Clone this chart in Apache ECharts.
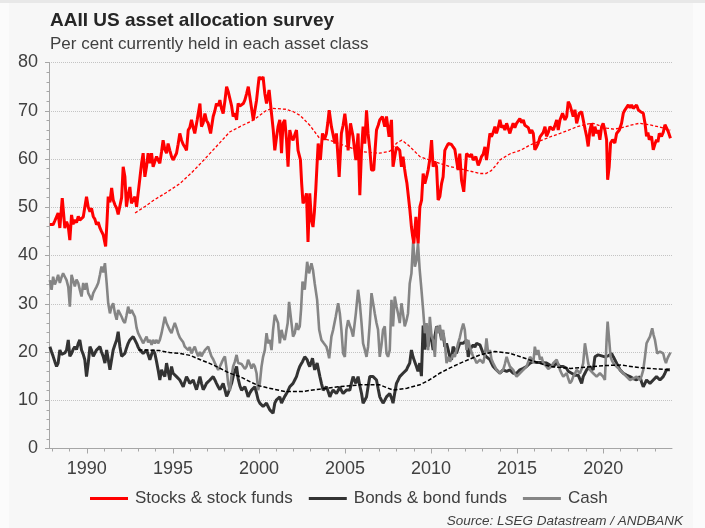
<!DOCTYPE html>
<html>
<head>
<meta charset="utf-8">
<script src="https://cdn.jsdelivr.net/npm/echarts@6/dist/echarts.min.js"></script>
<style>
html,body{margin:0;padding:0;background:#fbfbfb;}
#strip{position:absolute;left:0;top:0;width:705px;height:3px;background:#e8e8e8;}
#panel{position:absolute;left:9px;top:3px;width:684px;height:525px;background:#f7f7f7;}
#c{position:absolute;left:0;top:0;width:705px;height:528px;}
</style>
</head>
<body>
<div id="strip"></div>
<div id="panel"></div>
<div id="c"></div>
<script>
// ---- tick labels ----
const yearLabels = [1990, 1995, 2000, 2005, 2010, 2015, 2020];
const yearTicks = [1988,1989,1990,1991,1992,1993,1994,1995,1996,1997,1998,1999,2000,2001,2002,2003,2004,2005,2006,2007,2008,2009,2010,2011,2012,2013,2014,2015,2016,2017,2018,2019,2020,2021,2022,2023];
const seriesNames = ['Stocks & stock funds', 'Bonds & bond funds', 'Cash'];

// ---- data: [decimal year, per cent] ----
const stocks = [[1987.85,46.4],[1987.95,46.0],[1988.04,46.4],[1988.14,47.2],[1988.24,47.0],[1988.33,48.8],[1988.43,45.7],[1988.57,51.9],[1988.72,45.7],[1988.82,47.0],[1988.92,46.0],[1989.01,43.2],[1989.11,48.4],[1989.2,46.5],[1989.3,47.4],[1989.4,46.8],[1989.5,48.1],[1989.59,47.3],[1989.69,47.0],[1989.79,48.0],[1989.88,47.7],[1989.98,52.2],[1990.08,50.0],[1990.18,49.1],[1990.27,49.8],[1990.37,48.1],[1990.47,47.5],[1990.56,46.4],[1990.66,46.9],[1990.76,45.7],[1990.85,45.0],[1990.95,44.3],[1991.09,41.9],[1991.17,47.0],[1991.24,52.2],[1991.34,51.0],[1991.44,54.0],[1991.53,51.5],[1991.63,50.5],[1991.73,49.8],[1991.82,48.5],[1991.92,48.1],[1992.02,52.0],[1992.11,58.4],[1992.21,56.3],[1992.3,50.1],[1992.4,52.5],[1992.5,54.2],[1992.59,50.8],[1992.69,51.5],[1992.79,52.2],[1992.89,50.1],[1992.98,52.9],[1993.08,56.0],[1993.18,59.1],[1993.27,61.2],[1993.37,56.3],[1993.47,58.5],[1993.56,61.2],[1993.66,59.1],[1993.76,61.2],[1993.85,58.4],[1993.95,59.5],[1994.05,60.5],[1994.14,59.8],[1994.24,59.1],[1994.34,61.5],[1994.43,63.9],[1994.53,62.0],[1994.63,61.2],[1994.72,63.2],[1994.82,61.8],[1994.92,60.5],[1995.01,59.8],[1995.11,60.5],[1995.21,61.2],[1995.3,63.0],[1995.4,65.3],[1995.5,63.9],[1995.6,63.0],[1995.69,62.5],[1995.79,61.8],[1995.89,66.0],[1995.98,66.5],[1996.08,68.1],[1996.18,66.5],[1996.27,65.3],[1996.41,68.1],[1996.57,71.5],[1996.66,66.7],[1996.76,67.5],[1996.86,69.4],[1996.95,68.0],[1997.05,67.4],[1997.19,65.3],[1997.34,68.8],[1997.44,70.0],[1997.53,71.5],[1997.63,71.0],[1997.73,72.2],[1997.82,70.5],[1997.92,69.4],[1998.02,72.0],[1998.12,75.0],[1998.21,74.0],[1998.31,73.6],[1998.41,71.0],[1998.5,68.8],[1998.6,69.5],[1998.7,68.1],[1998.79,71.5],[1998.89,71.0],[1998.99,70.8],[1999.09,71.5],[1999.18,72.2],[1999.28,73.5],[1999.38,75.0],[1999.47,72.9],[1999.57,70.5],[1999.67,68.1],[1999.76,70.0],[1999.86,72.2],[1999.93,74.5],[2000.01,77.0],[2000.12,76.5],[2000.24,77.0],[2000.34,73.6],[2000.44,71.5],[2000.59,74.3],[2000.73,69.4],[2000.83,66.0],[2000.92,61.8],[2001.02,64.5],[2001.11,66.7],[2001.21,68.1],[2001.31,61.2],[2001.4,67.4],[2001.5,68.1],[2001.6,64.0],[2001.69,58.4],[2001.79,66.0],[2001.89,64.5],[2001.98,63.9],[2002.08,65.0],[2002.18,66.0],[2002.27,61.8],[2002.41,59.8],[2002.48,55.0],[2002.56,50.8],[2002.66,51.5],[2002.76,52.9],[2002.85,42.8],[2002.95,52.9],[2003.05,47.3],[2003.14,45.9],[2003.22,49.0],[2003.3,53.6],[2003.37,58.5],[2003.44,63.2],[2003.57,59.8],[2003.69,65.3],[2003.8,64.0],[2003.92,65.3],[2004.0,67.5],[2004.08,70.1],[2004.21,66.7],[2004.31,65.0],[2004.41,63.2],[2004.5,65.3],[2004.58,61.0],[2004.66,56.3],[2004.79,65.3],[2004.89,67.0],[2004.99,69.4],[2005.08,66.7],[2005.18,61.8],[2005.32,67.4],[2005.47,64.6],[2005.63,59.8],[2005.76,65.3],[2005.86,52.5],[2005.96,61.8],[2006.05,66.7],[2006.15,63.2],[2006.25,70.1],[2006.34,65.3],[2006.44,62.0],[2006.54,57.7],[2006.67,57.7],[2006.75,62.0],[2006.83,66.0],[2006.93,67.0],[2007.02,68.1],[2007.17,68.8],[2007.31,66.7],[2007.41,68.8],[2007.56,64.6],[2007.7,68.1],[2007.79,58.4],[2007.89,60.5],[2007.99,62.5],[2008.09,62.5],[2008.18,61.8],[2008.28,58.4],[2008.37,60.5],[2008.46,58.0],[2008.53,56.3],[2008.6,54.9],[2008.77,49.4],[2008.86,45.9],[2008.93,44.0],[2009.0,42.5],[2009.12,48.0],[2009.19,44.6],[2009.25,42.5],[2009.35,50.1],[2009.45,51.5],[2009.54,57.0],[2009.64,54.9],[2009.74,56.3],[2009.83,57.7],[2009.93,60.0],[2010.03,63.9],[2010.12,58.4],[2010.22,59.5],[2010.32,58.4],[2010.41,51.5],[2010.51,52.2],[2010.61,54.9],[2010.7,56.3],[2010.8,61.8],[2010.9,62.5],[2011.0,63.2],[2011.09,63.6],[2011.19,63.0],[2011.28,62.5],[2011.38,62.0],[2011.48,61.8],[2011.57,57.7],[2011.67,61.1],[2011.77,55.6],[2011.9,53.2],[2012.06,61.1],[2012.16,61.5],[2012.25,60.5],[2012.35,61.0],[2012.45,59.8],[2012.6,60.5],[2012.74,58.7],[2012.84,59.5],[2012.93,60.5],[2013.03,61.0],[2013.13,62.5],[2013.22,59.8],[2013.32,62.5],[2013.42,65.3],[2013.51,64.6],[2013.61,65.5],[2013.71,66.7],[2013.8,65.3],[2013.9,66.5],[2014.0,68.1],[2014.1,66.5],[2014.19,67.0],[2014.29,66.0],[2014.39,67.4],[2014.48,67.0],[2014.58,65.3],[2014.68,66.5],[2014.77,67.4],[2014.87,66.5],[2014.97,67.4],[2015.07,67.8],[2015.16,68.4],[2015.26,67.5],[2015.36,68.1],[2015.45,67.0],[2015.55,67.4],[2015.65,66.5],[2015.75,65.3],[2015.85,66.0],[2015.94,65.3],[2016.03,61.9],[2016.13,62.5],[2016.23,63.3],[2016.33,64.6],[2016.42,64.7],[2016.52,65.5],[2016.62,66.7],[2016.71,64.7],[2016.81,65.5],[2016.91,66.7],[2017.0,66.5],[2017.1,66.0],[2017.2,67.0],[2017.3,68.1],[2017.39,66.0],[2017.49,68.1],[2017.64,69.5],[2017.78,68.1],[2017.88,68.8],[2017.97,71.9],[2018.07,71.2],[2018.17,70.9],[2018.26,68.8],[2018.36,70.2],[2018.46,67.4],[2018.61,69.5],[2018.75,69.8],[2018.88,67.4],[2018.96,66.0],[2019.04,64.7],[2019.13,62.6],[2019.23,66.0],[2019.33,67.4],[2019.42,64.7],[2019.52,66.7],[2019.62,65.3],[2019.71,66.0],[2019.81,64.0],[2019.91,66.7],[2020.0,67.4],[2020.1,66.0],[2020.2,64.0],[2020.26,55.7],[2020.35,58.4],[2020.43,63.3],[2020.55,64.0],[2020.68,63.3],[2020.78,65.3],[2020.94,66.0],[2021.07,67.4],[2021.17,69.5],[2021.27,70.2],[2021.36,70.5],[2021.46,71.2],[2021.56,70.6],[2021.65,71.2],[2021.75,70.5],[2021.85,70.9],[2021.94,71.2],[2022.04,70.2],[2022.17,69.8],[2022.33,69.5],[2022.43,67.4],[2022.52,64.7],[2022.6,65.5],[2022.68,64.0],[2022.81,64.7],[2022.91,61.9],[2023.0,63.0],[2023.1,64.0],[2023.18,63.5],[2023.26,65.3],[2023.39,64.7],[2023.49,65.5],[2023.59,67.1],[2023.68,66.7],[2023.78,65.7],[2023.91,64.3]];

const bonds = [[1987.85,21.1],[1987.95,20.0],[1988.04,19.1],[1988.14,18.0],[1988.24,17.0],[1988.33,17.7],[1988.43,20.4],[1988.53,19.5],[1988.62,19.1],[1988.72,19.8],[1988.82,20.4],[1988.92,22.5],[1989.01,19.1],[1989.11,19.7],[1989.2,20.5],[1989.3,21.1],[1989.4,20.5],[1989.5,21.8],[1989.59,22.5],[1989.69,20.4],[1989.79,19.5],[1989.88,18.4],[1989.98,14.9],[1990.08,17.7],[1990.18,21.1],[1990.27,20.4],[1990.37,19.1],[1990.47,19.8],[1990.56,20.4],[1990.66,20.0],[1990.76,21.1],[1990.85,20.0],[1990.95,19.1],[1991.05,17.7],[1991.15,20.4],[1991.24,18.5],[1991.34,16.3],[1991.44,18.5],[1991.53,20.4],[1991.63,21.5],[1991.73,22.5],[1991.82,24.2],[1991.92,21.1],[1992.02,19.1],[1992.11,19.5],[1992.21,19.7],[1992.3,20.8],[1992.4,21.8],[1992.5,22.5],[1992.6,22.8],[1992.69,23.2],[1992.79,22.5],[1992.89,21.8],[1992.98,21.0],[1993.08,20.4],[1993.18,20.0],[1993.27,19.7],[1993.37,20.0],[1993.47,20.4],[1993.56,19.5],[1993.66,18.4],[1993.76,19.5],[1993.85,20.4],[1993.95,19.7],[1994.05,18.0],[1994.14,16.3],[1994.24,14.2],[1994.34,16.3],[1994.43,15.5],[1994.53,14.9],[1994.63,17.7],[1994.72,16.0],[1994.82,14.2],[1994.92,17.0],[1995.01,15.6],[1995.11,15.3],[1995.21,14.9],[1995.3,14.5],[1995.4,14.2],[1995.5,13.5],[1995.6,12.8],[1995.69,13.8],[1995.79,14.9],[1995.89,14.2],[1995.98,13.5],[1996.08,13.8],[1996.18,14.2],[1996.27,13.2],[1996.37,12.2],[1996.47,13.5],[1996.57,14.9],[1996.66,13.5],[1996.76,12.2],[1996.86,12.8],[1996.95,13.5],[1997.05,13.8],[1997.15,14.2],[1997.24,14.5],[1997.34,14.9],[1997.44,14.2],[1997.53,13.5],[1997.63,12.8],[1997.73,12.2],[1997.82,12.8],[1997.92,13.5],[1998.02,12.2],[1998.12,10.8],[1998.21,11.5],[1998.31,12.5],[1998.41,13.5],[1998.5,14.9],[1998.6,16.0],[1998.7,17.0],[1998.79,14.5],[1998.89,13.0],[1998.99,12.1],[1999.09,12.5],[1999.18,12.8],[1999.28,11.8],[1999.37,10.7],[1999.47,11.5],[1999.57,12.1],[1999.67,12.5],[1999.76,12.8],[1999.86,11.5],[1999.95,10.1],[2000.05,9.4],[2000.15,9.0],[2000.24,8.7],[2000.34,9.0],[2000.44,9.4],[2000.53,8.7],[2000.63,8.0],[2000.73,7.7],[2000.82,7.3],[2000.92,9.4],[2001.02,10.1],[2001.11,10.4],[2001.21,10.7],[2001.31,9.4],[2001.4,10.1],[2001.5,10.8],[2001.6,11.4],[2001.69,12.0],[2001.79,12.8],[2001.89,13.2],[2001.98,13.5],[2002.08,14.2],[2002.18,14.9],[2002.27,16.0],[2002.37,17.0],[2002.45,17.5],[2002.53,18.0],[2002.66,19.0],[2002.8,18.4],[2002.88,17.5],[2002.95,17.0],[2003.03,17.8],[2003.11,18.7],[2003.17,17.5],[2003.24,16.3],[2003.31,17.0],[2003.38,17.7],[2003.46,16.3],[2003.54,14.9],[2003.63,13.5],[2003.73,12.1],[2003.82,12.5],[2003.92,12.8],[2004.02,11.8],[2004.12,10.7],[2004.21,11.5],[2004.31,12.1],[2004.41,11.8],[2004.5,11.4],[2004.6,12.0],[2004.7,12.8],[2004.79,12.0],[2004.89,11.4],[2004.99,11.8],[2005.08,12.1],[2005.18,12.5],[2005.28,12.1],[2005.37,13.5],[2005.47,14.9],[2005.55,14.2],[2005.63,13.5],[2005.7,14.2],[2005.76,14.9],[2005.86,13.0],[2005.96,11.4],[2006.05,9.4],[2006.15,10.0],[2006.25,10.7],[2006.34,12.8],[2006.44,14.9],[2006.54,14.5],[2006.63,14.9],[2006.73,14.5],[2006.83,14.2],[2006.92,12.5],[2007.02,10.7],[2007.12,10.0],[2007.21,9.4],[2007.31,10.0],[2007.41,10.7],[2007.5,11.0],[2007.6,11.4],[2007.7,10.5],[2007.79,9.4],[2007.89,11.5],[2007.99,13.5],[2008.09,14.2],[2008.18,14.9],[2008.28,15.2],[2008.37,15.6],[2008.47,16.0],[2008.57,16.3],[2008.66,17.0],[2008.76,17.7],[2008.86,20.4],[2008.95,19.0],[2009.05,18.0],[2009.15,17.0],[2009.24,16.0],[2009.34,17.7],[2009.44,15.0],[2009.54,25.5],[2009.64,20.5],[2009.74,23.9],[2009.83,21.1],[2009.93,24.6],[2010.03,22.5],[2010.12,20.4],[2010.22,23.2],[2010.32,25.3],[2010.41,25.3],[2010.51,24.6],[2010.61,22.5],[2010.7,23.9],[2010.8,21.1],[2010.9,21.8],[2011.0,20.4],[2011.09,19.0],[2011.19,18.4],[2011.28,21.1],[2011.38,20.5],[2011.48,19.7],[2011.57,20.8],[2011.67,21.8],[2011.77,21.5],[2011.87,21.8],[2011.96,22.0],[2012.06,22.5],[2012.16,19.0],[2012.25,20.4],[2012.35,21.0],[2012.45,21.5],[2012.55,21.0],[2012.64,21.8],[2012.74,22.1],[2012.84,21.5],[2012.93,21.1],[2013.03,19.7],[2013.13,19.3],[2013.22,19.0],[2013.32,18.7],[2013.42,18.4],[2013.51,17.7],[2013.61,17.0],[2013.71,16.6],[2013.8,16.3],[2013.9,16.0],[2014.0,15.6],[2014.1,16.0],[2014.19,16.3],[2014.29,16.1],[2014.39,16.0],[2014.48,16.2],[2014.58,16.3],[2014.68,16.0],[2014.77,15.6],[2014.87,15.4],[2014.97,15.6],[2015.07,16.0],[2015.16,16.3],[2015.26,16.4],[2015.36,16.6],[2015.45,16.8],[2015.55,17.0],[2015.65,17.3],[2015.75,17.7],[2015.85,17.9],[2015.94,18.0],[2016.03,18.0],[2016.13,17.8],[2016.23,17.7],[2016.33,17.8],[2016.42,18.0],[2016.52,17.8],[2016.62,17.7],[2016.71,17.7],[2016.81,17.5],[2016.91,17.3],[2017.0,17.1],[2017.1,17.0],[2017.2,17.3],[2017.3,17.7],[2017.39,17.3],[2017.49,17.0],[2017.59,17.0],[2017.68,17.0],[2017.78,16.8],[2017.88,16.6],[2017.97,16.0],[2018.07,15.6],[2018.17,15.6],[2018.26,15.6],[2018.36,15.2],[2018.46,14.9],[2018.55,15.2],[2018.65,15.6],[2018.75,13.5],[2018.84,14.9],[2018.94,15.6],[2019.04,16.3],[2019.13,16.6],[2019.23,17.0],[2019.33,16.6],[2019.42,16.3],[2019.52,19.0],[2019.62,19.4],[2019.71,19.4],[2019.81,19.4],[2019.91,19.2],[2020.0,19.0],[2020.1,19.0],[2020.2,19.0],[2020.29,19.2],[2020.39,19.0],[2020.49,19.7],[2020.59,19.0],[2020.68,18.4],[2020.78,17.7],[2020.88,17.0],[2020.98,16.3],[2021.07,16.0],[2021.17,15.6],[2021.27,15.4],[2021.36,15.2],[2021.46,15.0],[2021.56,14.9],[2021.65,14.7],[2021.75,14.5],[2021.85,14.3],[2021.94,14.2],[2022.04,14.5],[2022.14,14.9],[2022.23,13.8],[2022.33,12.8],[2022.43,13.5],[2022.52,14.2],[2022.62,13.8],[2022.72,13.5],[2022.81,13.8],[2022.91,14.2],[2023.01,14.5],[2023.1,14.9],[2023.2,14.5],[2023.3,14.2],[2023.39,14.5],[2023.49,14.9],[2023.59,15.6],[2023.68,16.3],[2023.78,16.0],[2023.88,16.3]];

const cash = [[1987.85,34.9],[1987.95,32.9],[1988.04,35.6],[1988.14,34.0],[1988.24,34.9],[1988.33,36.0],[1988.43,34.3],[1988.53,35.5],[1988.62,36.3],[1988.72,35.6],[1988.82,34.9],[1988.92,33.5],[1989.01,29.4],[1989.11,36.0],[1989.21,35.6],[1989.3,33.6],[1989.4,35.0],[1989.5,34.3],[1989.59,32.9],[1989.69,31.5],[1989.79,34.3],[1989.88,32.9],[1989.98,34.3],[1990.08,32.2],[1990.18,31.5],[1990.27,30.8],[1990.37,32.2],[1990.47,32.9],[1990.56,33.5],[1990.66,34.3],[1990.76,36.0],[1990.85,37.7],[1990.95,36.5],[1991.05,38.4],[1991.15,34.3],[1991.24,30.1],[1991.34,28.0],[1991.44,29.5],[1991.53,30.1],[1991.63,28.0],[1991.73,26.7],[1991.82,28.7],[1991.92,28.0],[1992.02,27.3],[1992.11,26.5],[1992.21,26.0],[1992.3,27.5],[1992.4,29.4],[1992.5,28.0],[1992.6,28.7],[1992.69,28.0],[1992.79,27.3],[1992.89,25.0],[1992.98,23.9],[1993.08,23.2],[1993.18,22.5],[1993.27,21.8],[1993.37,22.5],[1993.47,23.2],[1993.56,22.0],[1993.66,22.5],[1993.76,21.5],[1993.85,22.5],[1993.95,21.8],[1994.05,22.5],[1994.14,21.8],[1994.24,22.5],[1994.34,23.9],[1994.43,25.5],[1994.53,27.3],[1994.63,26.0],[1994.72,25.3],[1994.82,24.5],[1994.92,23.9],[1995.01,25.0],[1995.11,26.0],[1995.21,25.0],[1995.3,23.9],[1995.4,23.0],[1995.5,22.5],[1995.6,22.0],[1995.69,21.1],[1995.79,21.5],[1995.89,20.4],[1995.98,21.0],[1996.08,19.7],[1996.18,20.5],[1996.27,21.1],[1996.37,20.0],[1996.47,19.1],[1996.57,20.0],[1996.66,19.1],[1996.76,19.8],[1996.86,20.4],[1996.95,20.0],[1997.05,21.1],[1997.15,20.0],[1997.24,19.1],[1997.34,18.5],[1997.44,17.7],[1997.53,17.0],[1997.63,16.3],[1997.73,17.0],[1997.82,17.7],[1997.92,18.5],[1998.02,19.1],[1998.12,16.5],[1998.21,13.5],[1998.31,12.0],[1998.4,14.9],[1998.5,17.0],[1998.6,18.0],[1998.7,19.4],[1998.79,17.7],[1998.89,18.0],[1998.99,17.5],[1999.08,17.7],[1999.18,16.5],[1999.28,17.0],[1999.37,18.4],[1999.47,17.5],[1999.57,16.6],[1999.67,17.5],[1999.76,17.0],[1999.86,15.6],[1999.95,12.1],[2000.05,13.5],[2000.15,17.0],[2000.24,19.0],[2000.34,20.4],[2000.44,23.9],[2000.53,21.8],[2000.63,22.5],[2000.73,20.4],[2000.82,24.6],[2000.92,27.7],[2001.02,28.0],[2001.11,26.0],[2001.21,21.8],[2001.31,24.6],[2001.4,23.2],[2001.5,22.5],[2001.6,22.5],[2001.67,26.0],[2001.75,30.4],[2001.89,26.0],[2001.98,23.2],[2002.08,23.9],[2002.18,26.0],[2002.27,24.6],[2002.37,25.3],[2002.45,29.0],[2002.53,34.6],[2002.66,32.9],[2002.8,38.7],[2002.91,36.3],[2003.05,38.4],[2003.14,37.0],[2003.24,34.2],[2003.38,30.8],[2003.5,24.6],[2003.63,22.5],[2003.77,21.8],[2003.92,21.1],[2004.0,20.0],[2004.08,18.7],[2004.21,23.2],[2004.31,24.6],[2004.46,27.3],[2004.6,30.1],[2004.7,28.0],[2004.79,24.6],[2004.89,19.7],[2004.99,19.0],[2005.08,24.6],[2005.18,26.6],[2005.28,25.5],[2005.37,24.6],[2005.47,23.2],[2005.63,28.0],[2005.76,32.9],[2005.86,30.1],[2005.96,26.0],[2006.05,21.8],[2006.15,20.5],[2006.25,19.0],[2006.34,21.1],[2006.44,26.0],[2006.54,32.2],[2006.63,32.2],[2006.73,28.0],[2006.83,26.0],[2006.92,24.6],[2007.02,19.0],[2007.12,21.5],[2007.21,24.6],[2007.31,25.3],[2007.41,19.7],[2007.5,19.0],[2007.6,20.4],[2007.7,30.8],[2007.79,25.3],[2007.89,31.5],[2007.99,29.5],[2008.08,28.0],[2008.18,26.0],[2008.28,30.1],[2008.37,28.0],[2008.47,25.3],[2008.57,26.5],[2008.66,28.0],[2008.76,34.2],[2008.86,36.3],[2008.96,43.0],[2009.06,37.7],[2009.15,39.0],[2009.24,42.5],[2009.34,37.0],[2009.44,33.0],[2009.54,28.7],[2009.64,23.9],[2009.74,26.0],[2009.83,20.4],[2009.93,27.3],[2010.03,23.2],[2010.12,22.5],[2010.22,19.0],[2010.32,25.3],[2010.41,23.9],[2010.51,25.6],[2010.61,22.5],[2010.7,24.6],[2010.8,21.8],[2010.9,17.7],[2011.0,19.0],[2011.1,18.0],[2011.19,18.4],[2011.28,19.5],[2011.38,19.0],[2011.48,20.5],[2011.57,21.8],[2011.67,23.0],[2011.77,24.6],[2011.87,25.9],[2011.96,24.6],[2012.06,20.4],[2012.16,22.5],[2012.25,21.1],[2012.35,20.0],[2012.45,19.0],[2012.55,18.5],[2012.64,17.7],[2012.74,18.0],[2012.84,18.4],[2012.93,18.0],[2013.03,17.7],[2013.13,19.5],[2013.22,22.8],[2013.32,19.7],[2013.42,20.4],[2013.51,18.5],[2013.61,17.7],[2013.71,17.0],[2013.8,16.3],[2013.9,16.0],[2014.0,15.6],[2014.1,16.0],[2014.19,16.3],[2014.29,17.5],[2014.39,19.0],[2014.48,18.0],[2014.58,17.0],[2014.68,16.8],[2014.77,16.3],[2014.87,15.5],[2014.97,14.9],[2015.07,15.3],[2015.16,15.6],[2015.26,16.0],[2015.36,16.3],[2015.45,16.5],[2015.55,17.0],[2015.65,18.0],[2015.75,19.0],[2015.85,18.5],[2015.94,17.7],[2016.03,21.1],[2016.13,19.4],[2016.23,20.4],[2016.33,18.4],[2016.42,19.0],[2016.52,17.7],[2016.62,17.5],[2016.71,17.0],[2016.81,16.5],[2016.91,16.3],[2017.0,17.0],[2017.1,17.7],[2017.2,18.0],[2017.3,18.4],[2017.39,17.5],[2017.49,16.3],[2017.59,15.5],[2017.68,14.9],[2017.78,15.3],[2017.88,15.6],[2017.97,14.5],[2018.07,13.5],[2018.17,14.0],[2018.26,14.9],[2018.36,15.5],[2018.46,16.3],[2018.55,16.0],[2018.65,15.6],[2018.75,16.5],[2018.84,17.7],[2018.94,21.8],[2019.04,21.8],[2019.13,17.7],[2019.23,16.3],[2019.33,16.0],[2019.42,15.6],[2019.52,15.2],[2019.62,14.9],[2019.71,15.3],[2019.81,15.6],[2019.91,15.2],[2020.0,14.9],[2020.1,14.2],[2020.2,22.5],[2020.26,26.3],[2020.35,22.5],[2020.43,19.0],[2020.51,18.2],[2020.59,17.7],[2020.68,17.5],[2020.78,17.0],[2020.88,16.6],[2020.98,16.3],[2021.07,16.0],[2021.17,15.6],[2021.27,15.2],[2021.36,14.9],[2021.46,14.5],[2021.56,14.2],[2021.65,14.4],[2021.75,14.5],[2021.85,14.7],[2021.94,14.9],[2022.04,14.5],[2022.14,14.2],[2022.23,15.0],[2022.33,16.3],[2022.43,19.0],[2022.52,21.8],[2022.62,22.5],[2022.72,23.2],[2022.85,24.9],[2022.93,23.5],[2023.01,22.5],[2023.08,21.0],[2023.14,19.7],[2023.22,20.0],[2023.3,20.1],[2023.39,19.9],[2023.49,19.7],[2023.57,18.5],[2023.65,17.7],[2023.72,18.5],[2023.78,19.0],[2023.91,19.9]];

const stocksAvg = [[1992.8,48.8],[1993.4,50.2],[1993.9,51.5],[1994.6,53.0],[1995.4,54.9],[1996.1,57.2],[1996.8,59.8],[1997.5,62.5],[1998.3,65.6],[1999.0,66.9],[1999.7,68.1],[2000.4,70.0],[2000.8,70.5],[2001.6,70.3],[2002.0,69.8],[2002.4,69.0],[2002.95,67.0],[2003.5,64.4],[2004.1,63.9],[2005.1,62.6],[2006.0,61.5],[2007.0,61.2],[2007.6,61.6],[2008.0,63.3],[2008.3,63.9],[2008.7,62.8],[2009.35,60.5],[2009.9,59.8],[2010.5,59.1],[2011.1,58.4],[2011.7,58.0],[2012.25,57.5],[2012.8,57.0],[2013.2,57.0],[2013.5,57.6],[2013.8,58.8],[2014.0,59.8],[2014.6,61.1],[2015.2,61.8],[2015.75,62.9],[2016.3,63.7],[2017.0,64.7],[2017.5,65.3],[2018.0,66.0],[2018.5,66.7],[2019.0,67.2],[2019.4,67.4],[2019.8,66.9],[2020.2,66.4],[2020.6,66.2],[2021.0,66.4],[2021.6,67.0],[2022.1,67.4],[2022.7,67.1],[2023.3,66.6],[2023.9,66.0]];

const bondsAvg = [[1993.0,20.4],[1993.6,20.4],[1994.2,20.3],[1994.8,19.9],[1995.4,19.7],[1996.0,19.3],[1996.6,18.4],[1997.1,17.7],[1997.7,16.7],[1998.3,15.6],[1998.9,14.9],[1999.5,13.8],[2000.0,13.0],[2000.6,12.5],[2001.5,11.8],[2002.5,11.8],[2003.5,12.3],[2004.6,12.8],[2005.9,13.2],[2007.0,13.2],[2007.8,12.1],[2008.6,12.5],[2009.35,13.2],[2009.9,14.2],[2010.5,15.6],[2011.1,16.7],[2011.7,17.7],[2012.3,18.6],[2012.84,19.4],[2013.7,20.1],[2014.6,19.7],[2015.2,19.0],[2015.7,18.4],[2016.9,17.0],[2018.1,16.6],[2019.4,17.0],[2020.2,17.2],[2021.0,17.3],[2022.3,16.7],[2023.9,16.3]];

const FONT = '"Liberation Sans", Arial, Helvetica, sans-serif';
const AXIS = '#a6a6a6';
const TXT = '#404040';

const chart = echarts.init(document.getElementById('c'), null, {renderer: 'canvas'});
chart.setOption({
  animation: false,
  backgroundColor: 'transparent',
  grid: {left: 49, right: 33, top: 62.5, bottom: 79.5},
  graphic: [
    {type: 'text', left: 50, top: 11, style: {text: 'AAII US asset allocation survey', font: 'bold 19px ' + FONT, fill: '#262626'}},
    {type: 'text', left: 50, top: 36, style: {text: 'Per cent currently held in each asset class', font: '17px ' + FONT, fill: TXT}},
    {type: 'text', right: 22, top: 514, style: {text: 'Source: LSEG Datastream / ANDBANK', font: 'italic 13.5px ' + FONT, fill: TXT}}
  ],
  legend: {
    data: seriesNames, left: 90, top: 490, padding: 0,
    icon: 'rect', itemWidth: 38, itemHeight: 3, itemGap: 16,
    textStyle: {fontSize: 17, color: TXT, fontFamily: FONT, padding: [0, 0, 0, 2]}
  },
  xAxis: [{
    type: 'value', min: 1987.8, max: 2024,
    axisLine: {show: true, lineStyle: {color: AXIS}},
    axisTick: {show: true, customValues: yearTicks, length: 3, lineStyle: {color: AXIS}},
    axisLabel: {customValues: yearLabels, formatter: v => String(v), fontSize: 18, color: TXT, fontFamily: FONT, margin: 12},
    splitLine: {show: false}
  }, {
    type: 'value', min: 1987.8, max: 2024, position: 'bottom',
    axisLine: {show: false},
    axisTick: {show: true, customValues: yearLabels, length: 5, lineStyle: {color: AXIS}},
    axisLabel: {show: false}, splitLine: {show: false}
  }],
  yAxis: {
    type: 'value', min: 0, max: 80, interval: 10,
    axisLine: {show: true, lineStyle: {color: AXIS}},
    axisTick: {show: true, length: 4, lineStyle: {color: AXIS}},
    minorTick: {show: true, splitNumber: 5, length: 2.5, lineStyle: {color: AXIS}},
    axisLabel: {fontSize: 18, color: TXT, fontFamily: FONT, margin: 11},
    splitLine: {show: true, lineStyle: {type: 'dotted', color: '#c4c4c4'}}
  },
  series: [
    {name: seriesNames[1], type: 'line', data: bonds, symbol: 'none', color: '#333333', lineStyle: {width: 3, color: '#333333'}, z: 2},
    {name: seriesNames[2], type: 'line', data: cash, symbol: 'none', color: '#858585', lineStyle: {width: 2.6, color: '#858585'}, z: 3},
    {name: seriesNames[0], type: 'line', data: stocks, symbol: 'none', color: '#ff0000', lineStyle: {width: 3, color: '#ff0000'}, z: 4},
    {name: 'Stocks avg', type: 'line', data: stocksAvg, symbol: 'none', color: '#ff0000', lineStyle: {width: 1.3, color: '#ff0000', type: [3, 2]}, z: 5},
    {name: 'Bonds avg', type: 'line', data: bondsAvg, symbol: 'none', color: '#000000', lineStyle: {width: 1.5, color: '#000000', type: [4, 2]}, z: 5}
  ]
});
</script>
</body>
</html>
